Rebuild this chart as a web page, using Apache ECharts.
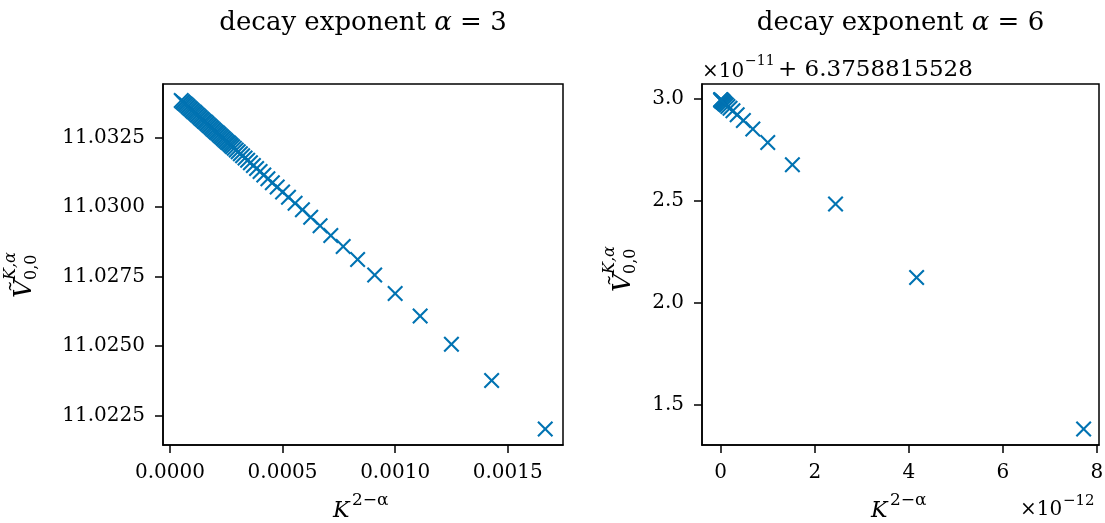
<!DOCTYPE html>
<html>
<head>
<meta charset="utf-8">
<script src="https://cdn.jsdelivr.net/npm/echarts@6/dist/echarts.min.js"></script>
<style>
html,body{margin:0;padding:0;background:#fff;}
#chart{width:1105px;height:523px;}
</style>
</head>
<body>
<div id="chart"></div>
<script>
// ---- data ----
// left panel: decay exponent alpha = 3, x = K^(2-alpha)
const xLeft = [0.0016667, 0.0014286, 0.00125, 0.0011111, 0.001, 0.00090909, 0.00083333, 0.00076923,
  0.00071429, 0.00066667, 0.000625, 0.00058824, 0.00055556, 0.00052632, 0.0005, 0.00047619,
  0.00045455, 0.00043478, 0.00041667, 0.0004, 0.00038462, 0.00037037, 0.00035714, 0.00034483,
  0.00033333, 0.00032258, 0.0003125, 0.00030303, 0.00029412, 0.00028571,
  0.000278, 0.000272, 0.000266, 0.00026, 0.000254, 0.000248, 0.000242, 0.000236, 0.00023,
  0.000224, 0.000218, 0.000212, 0.000206, 0.0002, 0.000194, 0.000188, 0.000182, 0.000176,
  0.00017, 0.000164, 0.000158, 0.000152, 0.000146, 0.00014, 0.000134, 0.000128, 0.000122,
  0.000116, 0.00011, 0.000104, 0.000098, 0.000092, 0.000086, 0.00008, 0.000074, 0.000068,
  0.000062, 0.000056, 0.00005];
const yLeft = [11.022023, 11.023761, 11.025065, 11.026079, 11.02689, 11.027554, 11.028107, 11.028575,
  11.028976, 11.029323, 11.029627, 11.029896, 11.030134, 11.030348, 11.03054, 11.030714,
  11.030872, 11.031016, 11.031148, 11.03127, 11.031382, 11.031486, 11.031583, 11.031673,
  11.031757, 11.031835, 11.031909, 11.031978, 11.032043, 11.032104,
  11.032161, 11.032204, 11.032248, 11.032292, 11.032336, 11.03238, 11.032423, 11.032467, 11.032511,
  11.032555, 11.032599, 11.032642, 11.032686, 11.03273, 11.032774, 11.032818, 11.032861, 11.032905,
  11.032949, 11.032993, 11.033037, 11.03308, 11.033124, 11.033168, 11.033212, 11.033256, 11.033299,
  11.033343, 11.033387, 11.033431, 11.033475, 11.033518, 11.033562, 11.033606, 11.03365, 11.033694,
  11.033737, 11.033781, 11.033825];
// right panel: decay exponent alpha = 6, x in units of 1e-12, y in units of 1e-11 above 6.3758815528
const xRight = [7.716, 4.165, 2.441, 1.524, 1.0, 0.683, 0.482, 0.350, 0.260, 0.198, 0.153, 0.120,
  0.095, 0.077, 0.0625, 0.051, 0.042, 0.035, 0.029, 0.024, 0.019, 0.014, 0.010, 0.006, 0.003, 0.001, 0];
const yRight = [1.379, 2.123, 2.484, 2.677, 2.786, 2.853, 2.895, 2.923, 2.942, 2.955, 2.964, 2.971,
  2.976, 2.980, 2.983, 2.985, 2.987, 2.989, 2.990, 2.991, 2.992, 2.993, 2.994, 2.995, 2.995, 2.996, 2.996];
// tick labels
const leftXTicks = [0, 0.0005, 0.0010, 0.0015];
const leftYTicks = [11.0225, 11.0250, 11.0275, 11.0300, 11.0325];
const rightXTicks = [0, 2, 4, 6, 8];
const rightYTicks = [1.5, 2.0, 2.5, 3.0];
const titles = ['decay exponent ', 'decay exponent '];
const alphas = ['3', '6'];
const rightYOffset = '6.3758815528';

// ---- styling ----
const FONT = "'DejaVu Serif', 'Liberation Serif', serif";
const BLUE = '#0173b2';
const t = 1.5;
const XPATH = 'path://M' + t + ',0 L8,' + (8 - t) + ' L' + (16 - t) + ',0 L16,' + t + ' L' + (8 + t) + ',8 L16,' + (16 - t) +
  ' L' + (16 - t) + ',16 L8,' + (8 + t) + ' L' + t + ',16 L0,' + (16 - t) + ' L' + (8 - t) + ',8 L0,' + t + ' Z';

function axisCommon(ticks, fmt) {
  return {
    type: 'value',
    axisLine: { show: true, onZero: false, lineStyle: { color: '#000', width: 1.5 } },
    axisTick: { show: true, inside: false, length: 8, customValues: ticks, lineStyle: { color: '#000', width: 1.5 } },
    axisLabel: { show: true, customValues: ticks, formatter: fmt, color: '#000',
      fontFamily: FONT, fontSize: 20 },
    splitLine: { show: false }
  };
}

const chart = echarts.init(document.getElementById('chart'), null, { renderer: 'canvas' });

const gridBase = { show: true, borderColor: '#000', borderWidth: 1.5, backgroundColor: 'transparent',
  containLabel: false, outerBoundsMode: 'none' };

const xL = Object.assign(axisCommon(leftXTicks, v => v.toFixed(4)), { gridIndex: 0, min: -0.0000311, max: 0.0017456 });
xL.axisLabel.margin = 18;
const yL = Object.assign(axisCommon(leftYTicks, v => v.toFixed(4)), { gridIndex: 0, min: 11.021448, max: 11.034415 });
yL.axisLabel.margin = 18;
const xR = Object.assign(axisCommon(rightXTicks, v => String(Math.round(v))), { gridIndex: 1, min: -0.398, max: 8.043 });
xR.axisLabel.margin = 18;
const yR = Object.assign(axisCommon(rightYTicks, v => v.toFixed(1)), { gridIndex: 1, min: 1.300, max: 3.074 });
yR.axisLabel.margin = 18;

function txt(x, y, text, font, align, vAlign) {
  return { type: 'text', x: x, y: y, z: 100,
    style: { text: text, font: font, fill: '#000', align: align || 'left', verticalAlign: vAlign || 'bottom' } };
}

function yLabel(ox, oy) {
  return { type: 'group', x: ox, y: oy, rotation: Math.PI / 2, z: 100,
    children: [
      txt(0, 6, '\u1E7C', 'italic 25px ' + FONT),
      txt(18, -12, 'K,\u03B1', 'italic 16px ' + FONT),
      txt(18, 9, '0,0', '16px ' + FONT)
    ] };
}

function xLabel(ox, by) {
  return [
    txt(ox, by + 5, 'K', 'italic 22px ' + FONT),
    txt(ox + 19, by - 8, '2\u2212\u03B1', '17px ' + FONT)
  ];
}

function title(cx, i) {
  return { type: 'text', x: cx, y: 36, z: 100,
    style: { rich: { i: { font: 'italic 26px ' + FONT, fill: '#000' } },
      text: titles[i] + '{i|\u03B1} = ' + alphas[i], font: '26px ' + FONT, fill: '#000',
      align: 'center', verticalAlign: 'bottom' } };
}

const graphics = [
  title(363, 0), title(900.5, 1),
  yLabel(31, 298), yLabel(630, 292),
  ...xLabel(333, 517), ...xLabel(871, 517),
  txt(702, 82, '\u00D710', '20px ' + FONT),
  txt(745, 68, '\u221211', '14px ' + FONT),
  txt(778, 82, '+ ' + rightYOffset, '23px ' + FONT),
  txt(1020, 520, '\u00D710', '20px ' + FONT),
  txt(1063, 509, '\u221212', '15px ' + FONT)
];

chart.setOption({
  animation: false,
  backgroundColor: '#fff',
  grid: [
    Object.assign({ left: 163, top: 84, width: 400, height: 361 }, gridBase),
    Object.assign({ left: 702, top: 84, width: 397, height: 361 }, gridBase)
  ],
  xAxis: [xL, xR],
  yAxis: [yL, yR],
  series: [
    { type: 'scatter', xAxisIndex: 0, yAxisIndex: 0, symbol: XPATH, symbolSize: 16,
      itemStyle: { color: BLUE, opacity: 1 }, data: xLeft.map((x, i) => [x, yLeft[i]]), clip: false },
    { type: 'scatter', xAxisIndex: 1, yAxisIndex: 1, symbol: XPATH, symbolSize: 16,
      itemStyle: { color: BLUE, opacity: 1 }, data: xRight.map((x, i) => [x, yRight[i]]), clip: false }
  ],
  graphic: graphics
});
</script>
</body>
</html>
